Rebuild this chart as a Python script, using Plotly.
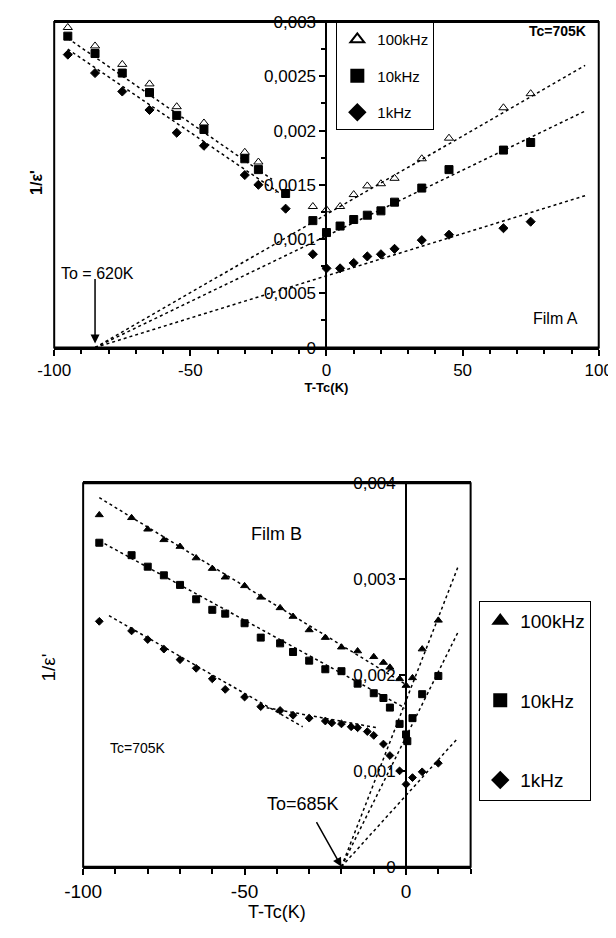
import plotly.graph_objects as go

# ---------------- Film A data ----------------
a_x100 = [-95,-85,-75,-65,-55,-45,-30,-25,-5,0,5,10,15,20,25,35,45,65,75]
a_y100 = [0.00295,0.00278,0.00261,0.00243,0.00222,0.00207,0.00180,0.00171,0.00130,0.00127,0.00130,0.00141,0.00149,0.00151,0.00156,0.00174,0.00193,0.00221,0.00234]
a_x10 = [-95,-85,-75,-65,-55,-45,-30,-25,-15,-5,0,5,10,15,20,25,35,45,65,75]
a_y10 = [0.00287,0.00271,0.00253,0.00235,0.00214,0.00201,0.00174,0.00164,0.00142,0.00117,0.00106,0.00112,0.00118,0.00122,0.00126,0.00134,0.00147,0.00164,0.00182,0.00189]
a_x1 = [-95,-85,-75,-65,-55,-45,-30,-25,-15,-5,0,5,10,15,20,25,35,45,65,75]
a_y1 = [0.00270,0.00253,0.00236,0.00219,0.00198,0.00186,0.00159,0.00150,0.00128,0.00086,0.00073,0.00073,0.00078,0.00084,0.00086,0.00091,0.00099,0.00104,0.00110,0.00116]
# fit lines (endpoints)
a_fit_x = [[-85,95],[-85,95],[-85,95],[-95,-20],[-95,-17]]
a_fit_y = [[0,0.0026],[0,0.00218],[0,0.0014],[0.00285,0.00155],[0.00275,0.00142]]

# ---------------- Film B data ----------------
b_x100 = [-95,-85,-80,-75,-70,-65,-60,-56,-50,-45,-39,-35,-30,-25,-20,-15,-10,-7,-5,-2,0,2,5,10]
b_y100 = [0.00367,0.00364,0.00352,0.00341,0.00334,0.00322,0.00311,0.00302,0.00293,0.00281,0.00270,0.00261,0.00247,0.00239,0.00229,0.00225,0.00219,0.00213,0.00208,0.00196,0.00189,0.00197,0.00227,0.00257]
b_x10 = [-95,-85,-80,-75,-70,-65,-60,-56,-50,-45,-39,-35,-30,-25,-20,-15,-10,-7,-5,-2,0,0.4,2,5,10]
b_y10 = [0.00338,0.00325,0.00313,0.00304,0.00294,0.00279,0.00268,0.00264,0.00254,0.00239,0.00233,0.00224,0.00215,0.00206,0.00204,0.00191,0.00181,0.00176,0.00166,0.00149,0.00138,0.00131,0.00155,0.00180,0.00199]
b_x1 = [-95,-85,-80,-75,-70,-65,-60,-56,-50,-45,-39,-35,-30,-25,-23,-20,-17,-15,-12,-10,-7,-5,-2,0,2,5,10]
b_y1 = [0.00256,0.00246,0.00237,0.00227,0.00216,0.00207,0.00196,0.00185,0.00177,0.00167,0.00163,0.00158,0.00155,0.00152,0.00150,0.00149,0.00146,0.00145,0.00141,0.00137,0.00128,0.00116,0.00100,0.00086,0.00093,0.00099,0.00108]
b_fit_x = [[-20,16],[-20,16],[-20,16],[-95,0],[-95,0],[-92,-32],[-45,-9]]
b_fit_y = [[0,0.00312],[0,0.00244],[0,0.00134],[0.00385,0.00190],[0.00340,0.00165],[0.00262,0.00146],[0.00167,0.00145]]

a_xticks = [-100,-50,0,50,100]
a_xtext = ["-100","-50","0","50","100"]
b_xticks = [-100,-50,0]
b_xtext = ["-100","-50","0"]
a_yticks = [0,0.0005,0.001,0.0015,0.002,0.0025,0.003]
a_ytext = ["0","0,0005","0,001","0,0015","0,002","0,0025","0,003"]
b_yticks = [0,0.001,0.002,0.003,0.004]
b_ytext = ["0","0,001","0,002","0,003","0,004"]

FONT = "Liberation Sans, Arial, sans-serif"
fig = go.Figure()

def fits(xs, ys, xa, ya, dash="dot"):
    for fx, fy in zip(xs, ys):
        fig.add_trace(go.Scatter(x=fx, y=fy, mode="lines", xaxis=xa, yaxis=ya, showlegend=False,
                                 line=dict(color="black", width=1.5, dash=dash), hoverinfo="skip"))

fits(a_fit_x, a_fit_y, "x", "y")
fits(b_fit_x, b_fit_y, "x2", "y2")

def pts(x, y, name, sym, xa, ya, leg, size, grp):
    fig.add_trace(go.Scatter(x=x, y=y, mode="markers", name=name, xaxis=xa, yaxis=ya, legend=leg,
                             legendgroup=grp,
                             marker=dict(symbol=sym, color="black", size=size,
                                         line=dict(color="black", width=1))))

pts(a_x100, a_y100, "100kHz", "triangle-up-open", "x", "y", "legend", 8, "a1")
pts(a_x10, a_y10, "10kHz", "square", "x", "y", "legend", 8, "a2")
pts(a_x1, a_y1, "1kHz", "diamond", "x", "y", "legend", 7, "a3")
pts(b_x100, b_y100, "100kHz", "triangle-up", "x2", "y2", "legend2", 7, "b1")
pts(b_x10, b_y10, "10kHz", "square", "x2", "y2", "legend2", 7, "b2")
pts(b_x1, b_y1, "1kHz", "diamond", "x2", "y2", "legend2", 6, "b3")

axcommon = dict(showgrid=False, zeroline=False, showline=True, linecolor="black", linewidth=2,
                ticks="outside", tickcolor="black", ticklen=6, tickwidth=1.5, automargin=False,
                tickfont=dict(family=FONT, size=17, color="black"))

fig.update_layout(
    width=616, height=938, margin=dict(l=0, r=0, t=0, b=0, autoexpand=False),
    plot_bgcolor="white", paper_bgcolor="white",
    font=dict(family=FONT, color="black"),
    xaxis=dict(domain=[0.075, 0.959], anchor="y", range=[-100, 100], tickvals=a_xticks, ticktext=a_xtext,
               minor=dict(dtick=10, ticks="outside", ticklen=4, tickcolor="black"),
               title=dict(text="<b>T-Tc(K)</b>", font=dict(size=13), standoff=0), mirror=True, **axcommon),
    yaxis=dict(domain=[0.638, 0.985], anchor="free", position=0.517, range=[0, 0.003],
               tickvals=a_yticks, ticktext=a_ytext,
               minor=dict(dtick=0.00025, ticks="outside", ticklen=4, tickcolor="black"), **axcommon),
    xaxis2=dict(domain=[0.122, 0.751], anchor="y2", range=[-100, 20], tickvals=b_xticks, ticktext=b_xtext,
                minor=dict(dtick=10, ticks="outside", ticklen=5, tickcolor="black"),
                title=dict(text="T-Tc(K)", font=dict(size=18), standoff=4), mirror=True,
                **{**axcommon, "tickfont": dict(family=FONT, size=19, color="black")}),
    yaxis2=dict(domain=[0.0845, 0.4933], anchor="free", position=0.646, range=[0, 0.004],
                tickvals=b_yticks, ticktext=b_ytext, **{**axcommon, "linewidth": 1.5}),
    legend=dict(x=0.533, y=0.985, xanchor="left", yanchor="top", bordercolor="black", borderwidth=1,
                bgcolor="white", font=dict(size=15), tracegroupgap=14, itemsizing="constant",
                itemwidth=30),
    legend2=dict(x=0.765, y=0.368, xanchor="left", yanchor="top", bordercolor="black", borderwidth=1,
                 bgcolor="white", font=dict(size=19), tracegroupgap=52, itemsizing="constant",
                 itemwidth=30),
    showlegend=True,
)

# Boxes
fig.add_shape(type="rect", xref="x domain", yref="y domain", x0=0, x1=1, y0=0, y1=1,
              line=dict(color="black", width=2))
fig.add_shape(type="rect", xref="x2 domain", yref="y2 domain", x0=0, x1=1, y0=0, y1=1,
              line=dict(color="black", width=2))

fig.add_annotation(text="<b>1/ε'</b>", xref="paper", yref="paper", x=0.03, y=0.83, showarrow=False,
                   textangle=-90, font=dict(size=16))
fig.add_annotation(text="1/ε'", xref="paper", yref="paper", x=0.045, y=0.28, showarrow=False,
                   textangle=-90, font=dict(size=19))
fig.add_annotation(text="<b>Tc=705K</b>", xref="x", yref="y", x=96, y=0.00292, showarrow=False,
                   xanchor="right", font=dict(size=14))
fig.add_annotation(text="Film A", xref="x", yref="y", x=84, y=0.00027, showarrow=False, font=dict(size=16))
fig.add_annotation(text="", xref="x", yref="y", x=-85, y=0, ax=0, ay=-70, arrowcolor="black",
                   showarrow=True, arrowhead=2, arrowwidth=1.5, arrowsize=1.2, standoff=4)
fig.add_annotation(text="To = 620K", xref="x", yref="y", x=-84, y=0.00068, showarrow=False, font=dict(size=16))
fig.add_annotation(text="Film B", xref="x2", yref="y2", x=-40, y=0.00347, showarrow=False, font=dict(size=18))
fig.add_annotation(text="Tc=705K", xref="x2", yref="y2", x=-83, y=0.00124, showarrow=False, font=dict(size=14))
fig.add_annotation(text="To=685K", xref="x2", yref="y2", x=-32, y=0.00065, showarrow=False, font=dict(size=18))
fig.add_annotation(text="", xref="x2", yref="y2", x=-20, y=0, axref="x2", ayref="y2", ax=-28, ay=0.00048,
                   arrowcolor="black", showarrow=True, arrowhead=2, arrowwidth=1.5, arrowsize=1.2)

fig.write_html("out.html")
